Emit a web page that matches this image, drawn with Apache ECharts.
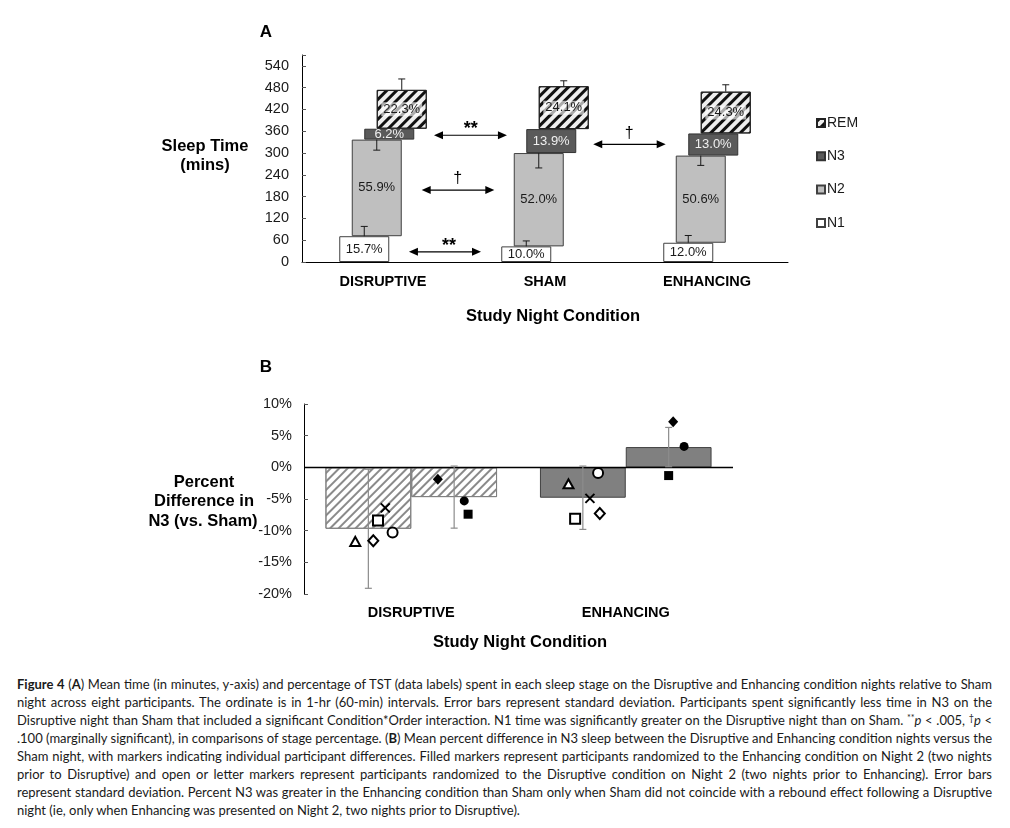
<!DOCTYPE html>
<html><head><meta charset="utf-8">
<script src="https://cdn.jsdelivr.net/npm/echarts/dist/echarts.min.js"></script>
<style>
html,body{margin:0;padding:0;background:#fff;}
#chart{position:absolute;left:0;top:0;width:1010px;height:670px;}
#cap{position:absolute;left:17px;top:675px;width:975px;font-family:Lato,'Open Sans',sans-serif;font-size:13px;line-height:18px;color:#1a1a1a;}
#cap .ln{white-space:nowrap;height:18px;}
#cap .ln span{display:inline-block;transform-origin:0 50%;}
sup{font-size:9px;line-height:0;vertical-align:4px;}
</style></head><body>
<div id="chart"></div>
<div id="cap">
<div class="ln"><span><b>Figure 4</b> (<b>A</b>) Mean time (in minutes, y-axis) and percentage of TST (data labels) spent in each sleep stage on the Disruptive and Enhancing condition nights relative to Sham</span></div>
<div class="ln"><span>night across eight participants. The ordinate is in 1-hr (60-min) intervals. Error bars represent standard deviation. Participants spent significantly less time in N3 on the</span></div>
<div class="ln"><span>Disruptive night than Sham that included a significant Condition*Order interaction. N1 time was significantly greater on the Disruptive night than on Sham. <sup>**</sup><i>p</i> &lt; .005, <sup>†</sup><i>p</i> &lt;</span></div>
<div class="ln"><span>.100 (marginally significant), in comparisons of stage percentage. (<b>B</b>) Mean percent difference in N3 sleep between the Disruptive and Enhancing condition nights versus the</span></div>
<div class="ln"><span>Sham night, with markers indicating individual participant differences. Filled markers represent participants randomized to the Enhancing condition on Night 2 (two nights</span></div>
<div class="ln"><span>prior to Disruptive) and open or letter markers represent participants randomized to the Disruptive condition on Night 2 (two nights prior to Enhancing). Error bars</span></div>
<div class="ln"><span>represent standard deviation. Percent N3 was greater in the Enhancing condition than Sham only when Sham did not coincide with a rebound effect following a Disruptive</span></div>
<div class="ln last"><span>night (ie, only when Enhancing was presented on Night 2, two nights prior to Disruptive).</span></div>
</div>
<script>
// ---------- Panel A data ----------
const cats = ['DISRUPTIVE', 'SHAM', 'ENHANCING'];
const stageNames = ['N1', 'N2', 'N3', 'REM'];
const n1Min = [71, 43, 53];
const n2Min = [266, 257, 240];
const n3Min = [30, 66, 61];
const remMin = [107, 118, 115];
const n1Pct = ['15.7%', '10.0%', '12.0%'];
const n2Pct = ['55.9%', '52.0%', '50.6%'];
const n3Pct = ['6.2%', '13.9%', '13.0%'];
const remPct = ['22.3%', '24.1%', '24.3%'];
const n1Sd = [27, 15, 20];
const n2Sd = [29, 41, 27];
const remSd = [30, 15, 19];
const yTicksA = [0, 60, 120, 180, 240, 300, 360, 420, 480, 540];

// significance annotations (y in minutes)
const sigText = ['**', '\u2020', '**', '\u2020'];
const sigY = [349, 198, 28, 324];

// ---------- Panel B data ----------
const catsB = ['DISRUPTIVE', 'ENHANCING'];
const meanOpen = [-9.7, -4.8];
const meanFilled = [-4.7, 3.2];
const sdOpen = [9.4, 5.0];
const sdFilled = [4.9, 3.1];
// open markers: triangle, diamond, square, cross, circle
const openDisr = [-11.7, -11.6, -8.4, -6.4, -10.3];
const openEnh = [-2.6, -7.3, -8.1, -4.9, -0.9];
// filled markers: diamond, circle, square
const filledDisr = [-1.9, -5.3, -7.4];
const filledEnh = [7.2, 3.3, -1.3];

// ---------- layout / style constants ----------
const FONT = "'Liberation Sans', Arial, sans-serif";
const BAR_W = 50;
const STEP = BAR_W * 0.25;
const ERR_DIR = [1, -1, 0, 1];
const stageMin = [n1Min, n2Min, n3Min, remMin];
const stagePct = [n1Pct, n2Pct, n3Pct, remPct];
const stageSd = [n1Sd, n2Sd, null, remSd];
// arrows: x in category units (category i centre = i + 0.5)
const ARROW_X = [[0.815, 1.265], [0.739, 1.187], [0.660, 1.105], [1.798, 2.245]];
const SIG_TX = [1.041, 0.961, 0.907, 2.019];
const SIG_DY = [-9, -12, -9, -11];
// marker jitter (fraction of category width) relative to its bar centre
const openJitD = [-0.061, 0.023, 0.045, 0.079, 0.113];
const openJitE = [-0.067, 0.079, -0.036, 0.033, 0.071];
const filledJitD = [-0.076, 0.047, 0.065];
const filledJitE = [0.021, 0.072, 0.0];
const openSym = ['triangle', 'diamond', 'rect', 'path://M0,0L10,10M10,0L0,10', 'circle'];
const openSize = [[10, 9], [10, 11], 10, 9, 10];
const filledSym = ['diamond', 'circle', 'rect'];
const filledSize = [[10, 11], 9, 9];

const remDecal = {symbol: 'rect', symbolSize: 1, color: '#111', dashArrayX: [1, 0], dashArrayY: [2.2, 3.2], rotation: -Math.PI / 4};
const hatchB = {symbol: 'rect', symbolSize: 1, color: '#8a8a8a', dashArrayX: [1, 0], dashArrayY: [1.2, 3.2], rotation: -Math.PI / 4};
const stageStyle = [
  {color: '#ffffff', borderColor: '#404040', borderWidth: 1},
  {color: '#bfbfbf', borderColor: '#404040', borderWidth: 1},
  {color: '#5a5a5a', borderColor: '#333333', borderWidth: 1},
  {color: '#eeeeee', borderColor: '#222222', borderWidth: 1, decal: remDecal}
];
const labelColor = ['#1a1a1a', '#1a1a1a', '#f0f0f0', '#1a1a1a'];
const catStyleB = [
  {color: '#ffffff', borderColor: '#808080', borderWidth: 1, decal: hatchB},
  {color: '#808080', borderColor: '#404040', borderWidth: 1}
];

const chart = echarts.init(document.getElementById('chart'));
const series = [];

stageNames.forEach((nm, s) => {
  const base = cats.map((c, i) => { let b = 0; for (let k = 0; k < s; k++) b += stageMin[k][i]; return b; });
  series.push({
    type: 'bar', name: '_b' + nm, stack: 'st' + nm, xAxisIndex: 0, yAxisIndex: 0,
    barWidth: BAR_W, barGap: '-75%', data: base, silent: true,
    itemStyle: {color: 'rgba(0,0,0,0)'}, emphasis: {disabled: true}
  });
  series.push({
    type: 'bar', name: nm, stack: 'st' + nm, xAxisIndex: 0, yAxisIndex: 0,
    barWidth: BAR_W, barGap: '-75%', data: stageMin[s], itemStyle: stageStyle[s],
    emphasis: {disabled: true},
    label: Object.assign({
      show: true, position: 'inside', formatter: p => stagePct[s][p.dataIndex],
      color: labelColor[s], fontSize: 13, fontFamily: FONT
    }, s === 3 ? {backgroundColor: 'rgba(255,255,255,0.65)', padding: [1, 2, 0, 2]} : {})
  });
  if (stageSd[s]) {
    const dir = ERR_DIR[s], offs = (s - 1.5) * STEP;
    series.push({
      type: 'custom', name: '_e' + nm, xAxisIndex: 0, yAxisIndex: 0, z: 5, silent: true,
      encode: {x: 0, y: 1},
      data: cats.map((c, i) => [i, base[i] + stageMin[s][i], stageSd[s][i]]),
      renderItem: (params, api) => {
        const i = api.value(0), top = api.value(1), sd = api.value(2);
        const a = api.coord([i, top]), e = api.coord([i, top + dir * sd]);
        const x = a[0] + offs;
        return {type: 'group', children: [
          {type: 'line', shape: {x1: x, y1: a[1], x2: x, y2: e[1]}, style: {stroke: '#1a1a1a', lineWidth: 1}},
          {type: 'line', shape: {x1: x - 3.5, y1: e[1], x2: x + 3.5, y2: e[1]}, style: {stroke: '#1a1a1a', lineWidth: 1}}
        ]};
      }
    });
  }
});

// Panel B bars
[meanOpen, meanFilled].forEach((arr, g) => {
  const ser = {
    type: 'bar', name: g ? 'filled' : 'open', xAxisIndex: 1, yAxisIndex: 1,
    barGap: '0%', barCategoryGap: '20%', emphasis: {disabled: true},
    data: arr.map((v, i) => ({value: v, itemStyle: catStyleB[i]}))
  };
  if (g === 0) ser.markLine = {silent: true, symbol: 'none', label: {show: false},
    lineStyle: {color: '#000', width: 1.3, type: 'solid'}, data: [{yAxis: 0}]};
  series.push(ser);
});
// Panel B error bars
[[meanOpen, sdOpen], [meanFilled, sdFilled]].forEach(([m, sd], g) => {
  series.push({
    type: 'custom', name: '_eb' + g, xAxisIndex: 1, yAxisIndex: 1, z: 5, silent: true,
    encode: {x: 0, y: 1},
    data: m.map((v, i) => [i, v, sd[i]]),
    renderItem: (params, api) => {
      const i = api.value(0), v = api.value(1), s = api.value(2);
      const band = api.size([1, 0])[0];
      const c = api.coord([i, v]);
      const x = c[0] + (g ? 0.2 : -0.2) * band;
      const t = api.coord([i, v + s])[1], b = api.coord([i, v - s])[1];
      const st = {stroke: '#8c8c8c', lineWidth: 1.2};
      return {type: 'group', children: [
        {type: 'line', shape: {x1: x, y1: t, x2: x, y2: b}, style: st},
        {type: 'line', shape: {x1: x - 3.5, y1: t, x2: x + 3.5, y2: t}, style: st},
        {type: 'line', shape: {x1: x - 3.5, y1: b, x2: x + 3.5, y2: b}, style: st}
      ]};
    }
  });
});
// Panel B markers
openDisr.forEach((v, p) => {
  series.push({
    type: 'scatter', name: '_o' + p, xAxisIndex: 2, yAxisIndex: 1, z: 6, silent: true,
    symbol: openSym[p], symbolSize: openSize[p],
    itemStyle: {color: p === 3 ? 'rgba(0,0,0,0)' : '#ffffff', borderColor: '#000', borderWidth: 2, opacity: 1},
    data: [[0.5 - 0.2 + openJitD[p], v], [1.5 - 0.2 + openJitE[p], openEnh[p]]]
  });
});
filledDisr.forEach((v, p) => {
  series.push({
    type: 'scatter', name: '_f' + p, xAxisIndex: 2, yAxisIndex: 1, z: 6, silent: true,
    symbol: filledSym[p], symbolSize: filledSize[p],
    itemStyle: {color: '#000', opacity: 1},
    data: [[0.5 + 0.2 + filledJitD[p], v], [1.5 + 0.2 + filledJitE[p], filledEnh[p]]]
  });
});

const option = {
  animation: false,
  backgroundColor: '#ffffff',
  textStyle: {fontFamily: FONT},
  legend: {
    data: ['REM', 'N3', 'N2', 'N1'], orient: 'vertical', left: 811, top: 111,
    icon: 'rect', itemWidth: 8, itemHeight: 8, itemGap: 19.3, selectedMode: false,
    textStyle: {fontSize: 14, color: '#1a1a1a', fontFamily: FONT, padding: [0, 0, 0, -3]}
  },
  grid: [
    {left: 302, top: 55, width: 486, height: 207},
    {left: 304, top: 404, width: 429, height: 190}
  ],
  xAxis: [
    {type: 'category', gridIndex: 0, data: cats,
      axisLine: {lineStyle: {color: '#000', width: 1}}, axisTick: {show: false},
      axisLabel: {fontSize: 14.5, fontWeight: 'bold', color: '#000', margin: 12, fontFamily: FONT}},
    {type: 'category', gridIndex: 1, data: catsB,
      axisLine: {show: false}, axisTick: {show: false},
      axisLabel: {fontSize: 14.5, fontWeight: 'bold', color: '#000', margin: 11, fontFamily: FONT}},
    {type: 'value', gridIndex: 1, min: 0, max: 2, show: false}
  ],
  yAxis: [
    {type: 'value', gridIndex: 0, min: 0, max: 570, interval: 60,
      axisLine: {show: true, lineStyle: {color: '#000', width: 1}},
      axisTick: {show: true, inside: true, length: 4, lineStyle: {color: '#555'}},
      splitLine: {show: false},
      axisLabel: {fontSize: 14.5, color: '#1a1a1a', margin: 13, fontFamily: FONT,
        formatter: v => (yTicksA.indexOf(v) >= 0 ? String(v) : '')}},
    {type: 'value', gridIndex: 1, min: -20, max: 10, interval: 5,
      axisLine: {show: true, lineStyle: {color: '#000', width: 1}},
      axisTick: {show: true, inside: true, length: 4, lineStyle: {color: '#555'}},
      splitLine: {show: false},
      axisLabel: {fontSize: 14.5, color: '#1a1a1a', margin: 12, fontFamily: FONT, formatter: '{value}%'}}
  ],
  series: series
};
chart.setOption(option);

// ---------- annotations ----------
function txt(t, x, y, font) {
  return {type: 'text', z: 10, silent: true, style: {text: t, x: x, y: y, font: font || ('bold 16.5px ' + FONT),
    fill: '#000', align: 'center', verticalAlign: 'middle', textAlign: 'center', textVerticalAlign: 'middle'}};
}
const g = [];
g.push(txt('A', 266, 32, 'bold 17px ' + FONT));
g.push(txt('B', 266, 367, 'bold 17px ' + FONT));
g.push(txt('Sleep Time', 205, 146));
g.push(txt('(mins)', 205, 165));
g.push(txt('Study Night Condition', 553, 316));
g.push(txt('Percent', 204, 482));
g.push(txt('Difference in', 204, 501));
g.push(txt('N3 (vs. Sham)', 203, 521));
g.push(txt('Study Night Condition', 520, 642));

const c0 = chart.convertToPixel({xAxisIndex: 0}, cats[0]);
const c1 = chart.convertToPixel({xAxisIndex: 0}, cats[1]);
const band = c1 - c0;
const ux = u => c0 + (u - 0.5) * band;
sigY.forEach((yv, k) => {
  const y = chart.convertToPixel({yAxisIndex: 0}, yv);
  const x1 = ux(ARROW_X[k][0]), x2 = ux(ARROW_X[k][1]);
  g.push({type: 'line', silent: true, z: 10, shape: {x1: x1 + 6, y1: y, x2: x2 - 6, y2: y}, style: {stroke: '#000', lineWidth: 1.2}});
  g.push({type: 'polygon', silent: true, z: 10, shape: {points: [[x1, y], [x1 + 9, y - 4], [x1 + 9, y + 4]]}, style: {fill: '#000'}});
  g.push({type: 'polygon', silent: true, z: 10, shape: {points: [[x2, y], [x2 - 9, y - 4], [x2 - 9, y + 4]]}, style: {fill: '#000'}});
  const tx = ux(SIG_TX[k]);
  g.push(txt(sigText[k], tx, y + SIG_DY[k] + (sigText[k] === '**' ? 3 : 0), (sigText[k] === '**' ? 'bold 18px ' : '16px ') + FONT));
});
chart.setOption({graphic: g});

// ---------- caption justification ----------
function fitCaption() {
  const W = 975;
  document.querySelectorAll('#cap .ln').forEach(ln => {
    if (ln.classList.contains('last')) return;
    const sp = ln.querySelector('span');
    sp.style.wordSpacing = '0px'; sp.style.transform = '';
    const w = sp.getBoundingClientRect().width;
    const n = (sp.textContent.match(/ /g) || []).length;
    if (w <= W) {
      sp.style.wordSpacing = ((W - w) / n) + 'px';
    } else {
      sp.style.transform = 'scaleX(' + (W / w) + ')';
    }
  });
}
fitCaption();
if (document.fonts && document.fonts.ready) document.fonts.ready.then(fitCaption);
</script>
</body></html>
